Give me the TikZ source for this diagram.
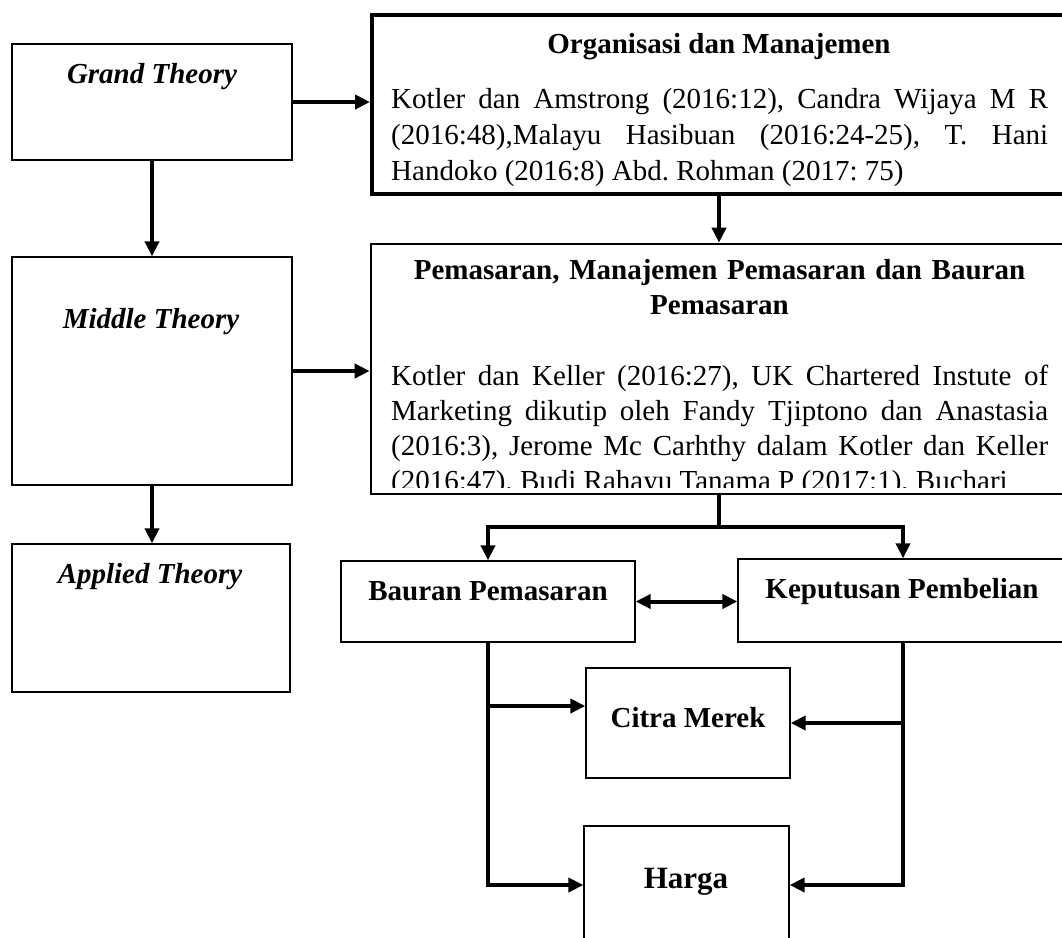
\documentclass[tikz,border=0pt]{standalone}
\usepackage{fontspec}
\setmainfont{Liberation Serif}
\usetikzlibrary{arrows.meta}
\begin{document}
\begin{tikzpicture}[x=1pt,y=-1pt,
  thinbox/.style={draw, line width=1.3pt, inner sep=0pt},
  orgbox/.style={draw, line width=4pt, inner sep=0pt},
  pembox/.style={draw, line width=2.7pt, inner sep=0pt},
  tip/.tip={Triangle[length=15pt,width=14pt]},
  arr/.style={line width=4pt, -tip},
  conn/.style={line width=4pt},
  darr/.style={line width=4pt, tip-tip},
  lbl/.style={font=\fontsize{29}{35}\selectfont\bfseries, inner sep=0pt, anchor=base},
  ilbl/.style={lbl, font=\fontsize{29}{34}\selectfont\bfseries\itshape},
  body/.style={font=\fontsize{29}{35}\selectfont\frenchspacing, inner sep=0pt, anchor=base west, text width=657pt, align=justify}]
\clip (0,0) rectangle (1062,937);
\fill[white] (0,0) rectangle (1062,937);

% left column
\node[thinbox, minimum width=280pt, minimum height=116pt] (grand) at (152,102) {};
\node[ilbl] (grandt) at (152,83) {Grand Theory};
\node[thinbox, minimum width=280pt, minimum height=228pt] (middle) at (152,371) {};
\node[ilbl] (middlet) at (151,328) {Middle Theory};
\node[thinbox, minimum width=278pt, minimum height=148pt] (applied) at (151,618) {};
\node[ilbl] (appliedt) at (150,583) {Applied Theory};

% right top boxes
\node[orgbox, minimum width=694pt, minimum height=179pt] (org) at (719,104.5) {};
\node[lbl] (orgt) at (719,53) {Organisasi dan Manajemen};
\begin{scope}
\clip (372,15) rectangle (1066,185);
\node[body, font=\fontsize{29}{36}\selectfont\frenchspacing] (orgb) at (391,108) {Kotler dan Amstrong (2016:12), Candra Wijaya M R\linebreak (2016:48),Malayu Hasibuan (2016:24-25), T. Hani\linebreak Handoko (2016:8) Abd. Rohman (2017: 75)};
\end{scope}

\node[pembox, minimum width=695pt, minimum height=250pt] (pem) at (718.5,369) {};
\node[lbl, text width=657pt, align=center] (pemt) at (719.5,279) {Pemasaran, Manajemen Pemasaran dan Bauran\\Pemasaran};
\begin{scope}
\clip (371,244) rectangle (1066,487);
\node[body] (pemb) at (391,385) {\parfillskip=0pt Kotler dan Keller (2016:27), UK Chartered Instute of\linebreak Marketing dikutip oleh Fandy Tjiptono dan Anastasia\linebreak (2016:3), Jerome Mc Carhthy dalam Kotler dan Keller\linebreak (2016:47), Budi Rahayu Tanama P (2017:1), Buchari};
\end{scope}

% lower boxes
\node[thinbox, minimum width=294pt, minimum height=81pt] (bauran) at (488,601.5) {};
\node[lbl] (baurant) at (488,600) {Bauran Pemasaran};
\node[thinbox, minimum width=330pt, minimum height=83pt] (kep) at (903,600.5) {};
\node[lbl] (kept) at (902,598) {Keputusan Pembelian};
\node[thinbox, minimum width=204pt, minimum height=110pt] (citra) at (688,723) {};
\node[lbl] (citrat) at (688,727) {Citra Merek};
\node[thinbox, minimum width=205pt, minimum height=134pt] (harga) at (686.5,893) {};
\node[lbl, font=\fontsize{31}{36}\selectfont\bfseries] (hargat) at (686,888) {Harga};

% connectors
\draw[arr] (grand.east) -- (grand.east -| org.west);
\draw[arr] (grand.south) -- (middle.north);
\draw[arr] (middle.east) -- (middle.east -| pem.west);
\draw[arr] (middle.south) -- (middle.south |- applied.north);

\coordinate (j1) at (719,527);
\draw[arr] (org.south -| j1) -- (pem.north -| j1);
\draw[conn] (pem.south -| j1) -- (j1);
\draw[arr] (j1) -| (bauran.north);
\draw[arr] (j1) -| (kep.north);
\draw[darr] (bauran.east) -- (bauran.east -| kep.west);

\coordinate (lb) at (488,885);
\coordinate (rb) at (903,885);
\coordinate (lc) at (488,706);
\draw[arr] (bauran.south) -- (lb) -- (lb -| harga.west);
\draw[arr] (kep.south -| rb) -- (rb) -- (rb -| harga.east);
\draw[arr] (lc) -- (lc -| citra.west);
\draw[arr] (rb |- citra.east) -- (citra.east);
\end{tikzpicture}
\end{document}
